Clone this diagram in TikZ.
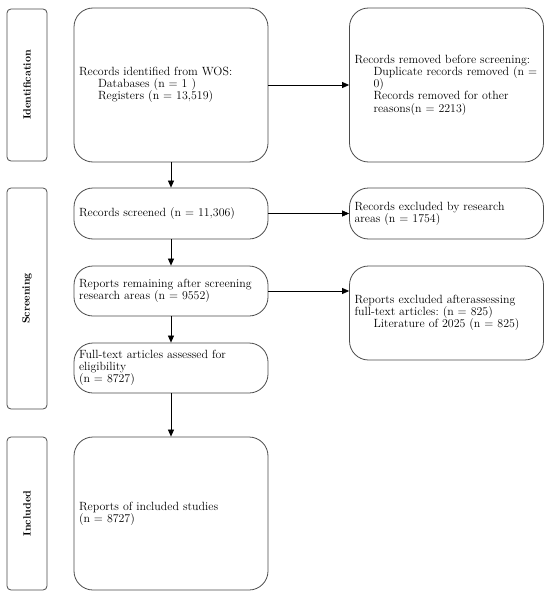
\documentclass[tikz,border=0pt]{standalone}
\usetikzlibrary{arrows.meta}
\definecolor{boxgray}{RGB}{75,75,75}
\tikzset{
  box/.style={draw=boxgray, line width=0.8pt, rounded corners=19pt, align=left,
    inner xsep=5pt, inner ysep=0pt, font=\frenchspacing\fontsize{11.9}{12.2}\selectfont,
    text width=184pt, minimum height=#1},
  side/.style={draw=boxgray, line width=0.8pt, rounded corners=4pt, rotate=90,
    minimum width=#1, minimum height=40pt, inner sep=0pt,
    font=\bfseries\fontsize{10.5}{12}\selectfont},
  arr/.style={draw=black, line width=0.7pt, -{Triangle[length=7pt,width=6pt]}},
}
\newcommand{\ind}{\hspace*{19pt}}
\begin{document}
\begin{tikzpicture}[x=1pt,y=-1pt]
\useasboundingbox (0,0) rectangle (550,597);
% side labels
\node[side=152] (sid) at (27,85) {Identification};
\node[side=221] (sscr) at (27,298.5) {Screening};
\node[side=153] (sinc) at (27,513.5) {Included};
% main column
\node[box=154pt] (ident) at (171,85) {Records identified from WOS:\\ \ind Databases (n = 1 )\\ \ind Registers (n = 13,519)};
\node[box=51pt] (scr) at (171,213.5) {Records screened (n = 11,306)};
\node[box=50pt] (rem) at (171,291) {Reports remaining after screening\\ research areas (n = 9552)};
\node[box=50pt] (full) at (171,368) {Full-text articles assessed for\\ eligibility\\ (n = 8727)};
\node[box=153pt] (incl) at (171,513.5) {Reports of included studies\\ (n = 8727)};
% right column
\node[box=154pt] (removed) at (446.5,85) {Records removed before screening:\\ \ind Duplicate records removed (n =\\ \ind 0)\\ \ind Records removed for other\\ \ind reasons(n = 2213)};
\node[box=51pt] (excl) at (446.5,213.5) {Records excluded by research\\ areas (n = 1754)};
\node[box=94pt] (rexcl) at (446.5,313) {Reports excluded afterassessing\\ full-text articles: (n = 825)\\ \ind Literature of 2025 (n = 825)\\[13pt]};
% arrows
\draw[arr] (ident) -- (removed);
\draw[arr] (ident) -- (scr);
\draw[arr] (scr) -- (excl);
\draw[arr] (scr) -- (rem);
\draw[arr] (rem.east) -- (rem.east -| rexcl.west);
\draw[arr] (rem) -- (full);
\draw[arr] (full) -- (incl);
\end{tikzpicture}
\end{document}
